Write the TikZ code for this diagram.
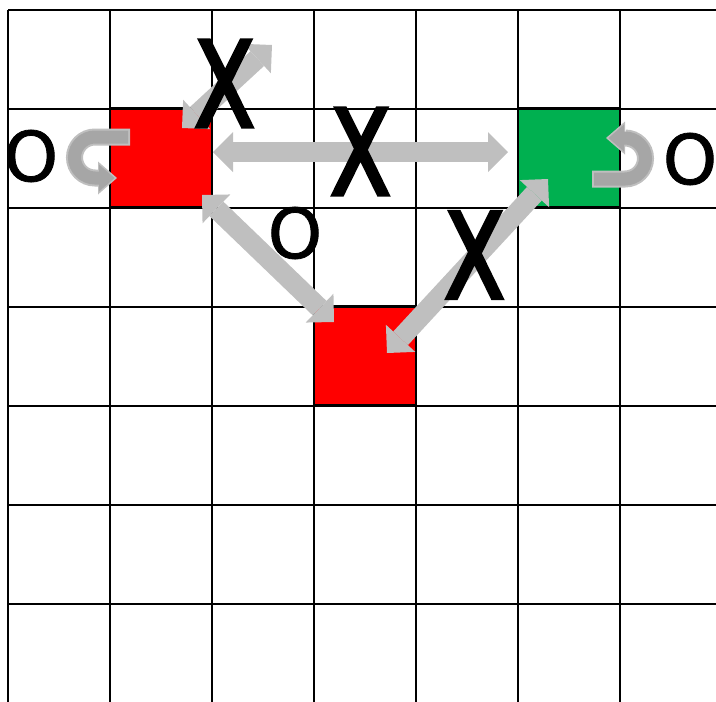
\documentclass[tikz,border=0pt]{standalone}
\usepackage{fontspec}
\setmainfont{Liberation Sans}
\newfontfamily\markfont[FakeBold=1.2]{DejaVu Sans}
\newfontfamily\crossfont[FakeStretch=0.74,FakeBold=3]{DejaVu Sans}
\usetikzlibrary{calc,arrows.meta}
\definecolor{cellred}{HTML}{FF0000}
\definecolor{cellgreen}{HTML}{00B050}
\definecolor{arrgray}{HTML}{BFBFBF}
\definecolor{turngray}{HTML}{A6A6A6}
\tikzset{
  gridline/.style={draw=black, line width=2.6pt},
  cell/.style={draw=black, line width=2.6pt, minimum width=102pt, minimum height=99pt,
    inner sep=0pt, outer sep=0pt},
  redcell/.style={cell, fill=cellred},
  greencell/.style={cell, fill=cellgreen},
  biarr/.style={draw=arrgray, line width=20pt,
    {Triangle[length=20pt,width=40pt,line width=0pt]}-{Triangle[length=20pt,width=40pt,line width=0pt]}},
  uturnout/.style={draw=arrgray, line width=17pt, -{Triangle[length=19pt,width=33pt,line width=0pt]}},
  uturnin/.style={draw=turngray, line width=13pt, -{Triangle[length=15.5pt,width=27pt,line width=0pt]},
    shorten >=2.5pt, shorten <=2pt},
  xmark/.style={inner sep=0pt, font=\crossfont\fontsize{119}{119}\selectfont},
  omark/.style={inner sep=0pt, font=\markfont\fontsize{69}{69}\selectfont}
}

\begin{document}
\begin{tikzpicture}[x=1pt, y=-1pt]
  \useasboundingbox (0,0) rectangle (716,702);
  \clip (0,0) rectangle (716,702);

  % coloured cells
  \node[redcell] (redA) at (161,157.5) {};
  \node[greencell] (greenB) at (569,157.5) {};
  \node[redcell] (redC) at (365,355.5) {};

  % board
  \foreach \i in {0,...,7} \draw[gridline] (8+102*\i,10) -- (8+102*\i,703);
  \foreach \j in {0,...,7} \draw[gridline] (8,10+99*\j) -- (722,10+99*\j);

  % moves
  \draw[biarr] ($(redA.east)+(1,-5.5)$) -- ($(greenB.west)+(-10,-5.5)$);
  \draw[biarr] ($(redA.north east)+(-30,20)$) -- ($(redA.north east)+(60,-63)$);
  \draw[biarr] ($(redA.south east)+(-10,-12)$) -- ($(redC.north west)+(20,16)$);
  \draw[biarr] ($(greenB.south west)+(30,-28)$) -- ($(redC.north east)+(-29,47)$);

  % self loops
  \draw[uturnout] ($(redA.west)+(20,-20.5)$) -- ++(-35,0) arc[start angle=270, end angle=90, radius=20.5] -- ++(22,0);
  \draw[uturnin] ($(redA.west)+(20,-20.5)$) -- ++(-35,0) arc[start angle=270, end angle=90, radius=20.5] -- ++(22,0);
  \draw[uturnout] ($(greenB.east)+(-28,21.5)$) -- ++(33,0) arc[start angle=90, end angle=-90, radius=20.5] -- ++(-19,0);
  \draw[uturnin] ($(greenB.east)+(-28,21.5)$) -- ++(33,0) arc[start angle=90, end angle=-90, radius=20.5] -- ++(-19,0);

  % marks
  \node[xmark] (xtop) at (224.5,83.5) {X};
  \node[xmark] (xmid) at (360.5,151.5) {X};
  \node[xmark] (xright) at (474.5,255) {X};
  \node[omark] (oleft) at (31,156) {O};
  \node[omark] (ocentre) at (295,233) {O};
  \node[omark] (oright) at (690,159) {O};
\end{tikzpicture}
\end{document}
